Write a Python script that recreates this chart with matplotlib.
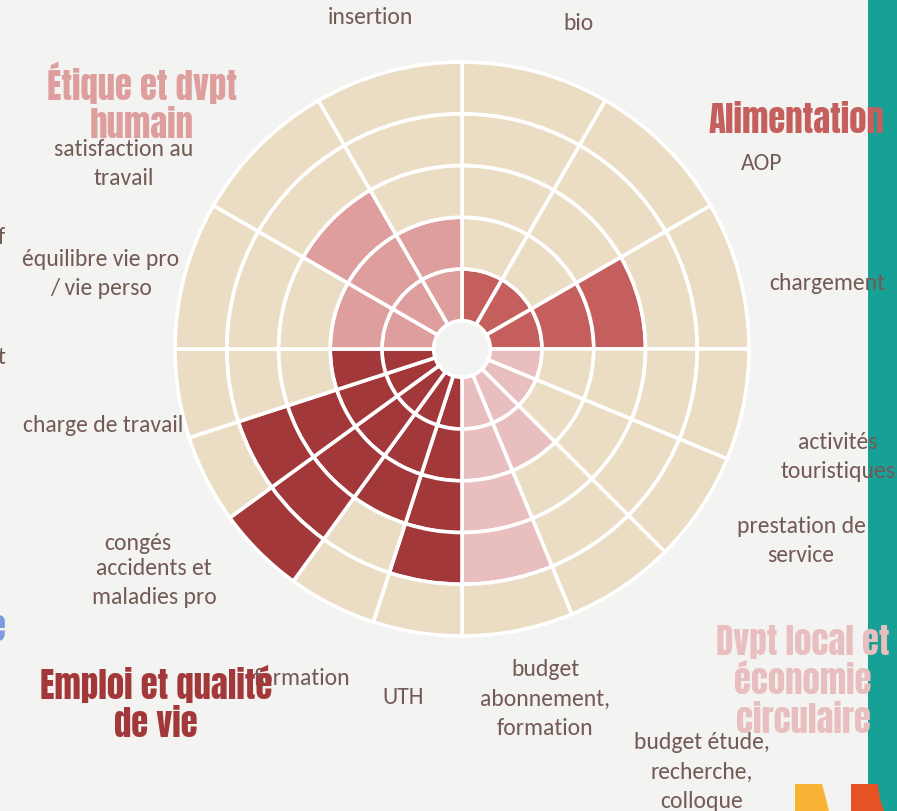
import matplotlib
matplotlib.use("Agg")
import matplotlib.pyplot as plt
import numpy as np
from matplotlib.patches import Rectangle, Polygon

# ---------------- data ----------------
categories = ["Alimentation", "Dvpt local et\néconomie\ncirculaire",
              "Emploi et qualité\nde vie", "Étique et dvpt\nhumain"]
category_colors = ["#C55F5E", "#E8BEBF", "#A3383A", "#DE9E9E"]

alimentation_items = ["bio", "AOP", "chargement"]
alimentation_scores = [1, 1, 3]
dvpt_items = ["activités\ntouristiques", "prestation de\nservice",
              "budget étude,\nrecherche,\ncolloque", "budget\nabonnement,\nformation"]
dvpt_scores = [1, 1, 2, 4]
emploi_items = ["UTH", "formation", "congés", "accidents et\nmaladies pro", "charge de travail"]
emploi_scores = [4, 3, 5, 4, 2]
etique_items = ["équilibre vie pro\n/ vie perso", "satisfaction au\ntravail", "insertion"]
etique_scores = [2, 3, 2]
max_score = 5

groups = [(alimentation_items, alimentation_scores),
          (dvpt_items, dvpt_scores),
          (emploi_items, emploi_scores),
          (etique_items, etique_scores)]

# ---------------- layout / style ----------------
W, H, DPI = 897, 812, 100
BG = "#F3F3F1"
EMPTY = "#EBDDC3"
TXT = "#735A55"
CX, CY = 462, 350          # centre of the wheel, px from top-left
RING_PX = 51.74
HOLE = 0.547
RMAX = 5.6

def fx(x):
    return x / W

def fy(y):
    return 1 - y / H

label_pos = {
    "insertion": (370, 18), "bio": (578, 24), "AOP": (762, 164),
    "chargement": (827, 284), "activités\ntouristiques": (838, 457),
    "prestation de\nservice": (801, 541),
    "budget étude,\nrecherche,\ncolloque": (702, 772),
    "budget\nabonnement,\nformation": (545, 699), "UTH": (403, 698),
    "formation": (302, 679), "congés": (138, 543),
    "accidents et\nmaladies pro": (154, 583), "charge de travail": (103, 426),
    "équilibre vie pro\n/ vie perso": (101, 274),
    "satisfaction au\ntravail": (124, 164),
}
title_pos = [(796, 120), (803, 681), (156, 703), (142, 102)]

fig = plt.figure(figsize=(W / DPI, H / DPI), dpi=DPI, facecolor=BG)

# teal band on the right
fig.patches.append(Rectangle((fx(868), 0), fx(W) - fx(868), 1, transform=fig.transFigure,
                             facecolor="#17A096", edgecolor="none", zorder=0))

R = RMAX * RING_PX
ax = fig.add_axes([fx(CX - R), fy(CY + R), 2 * R / W, 2 * R / H], projection="polar")
ax.set_theta_zero_location("N")
ax.set_theta_direction(-1)
ax.set_ylim(0, RMAX)
ax.axis("off")

for gi, (items, scores) in enumerate(groups):
    n = len(items)
    w = np.pi / 2 / n
    for i, s in enumerate(scores):
        th = gi * np.pi / 2 + (i + 0.5) * w
        for k in range(max_score):
            ax.bar(th, 1, width=w, bottom=HOLE + k,
                   color=category_colors[gi] if k < s else EMPTY,
                   edgecolor="white", linewidth=2.6)

label_font = ["Carlito", "DejaVu Sans"]
LABEL_FS = 17
for items, _ in groups:
    for it in items:
        x, y = label_pos[it]
        fig.text(fx(x), fy(y), it, ha="center", va="center", fontsize=LABEL_FS,
                 family=label_font, color=TXT, linespacing=1.5, zorder=5)

title_font = ["Anton", "DejaVu Sans"]
TITLE_FS = 25
for gi, name in enumerate(categories):
    x, y = title_pos[gi]
    fig.text(fx(x), fy(y), name, ha="center", va="center", fontsize=TITLE_FS,
             family=title_font, color=category_colors[gi],
             linespacing=1.15, zorder=6)

# cut-off fragments on the left edge
fig.text(fx(5), fy(238), "f", ha="right", va="center", fontsize=LABEL_FS, family=label_font, color=TXT)
fig.text(fx(5), fy(358), "t", ha="right", va="center", fontsize=LABEL_FS, family=label_font, color=TXT)
fig.text(fx(6), fy(628), "e", ha="right", va="center", fontsize=TITLE_FS, family=title_font,
         color="#7B9CE0")

# decorative shapes bottom right
fig.patches.append(Polygon([(fx(795), fy(785)), (fx(822), fy(785)), (fx(826), fy(800)),
                            (fx(829), fy(812)), (fx(795), fy(812))], closed=True,
                           transform=fig.transFigure, facecolor="#F8B334", edgecolor="none"))
fig.patches.append(Polygon([(fx(851), fy(785)), (fx(878), fy(785)), (fx(880), fy(800)),
                            (fx(884), fy(812)), (fx(851), fy(812))], closed=True,
                           transform=fig.transFigure, facecolor="#E55325", edgecolor="none"))

fig.savefig("out.png", dpi=DPI, facecolor=BG)
